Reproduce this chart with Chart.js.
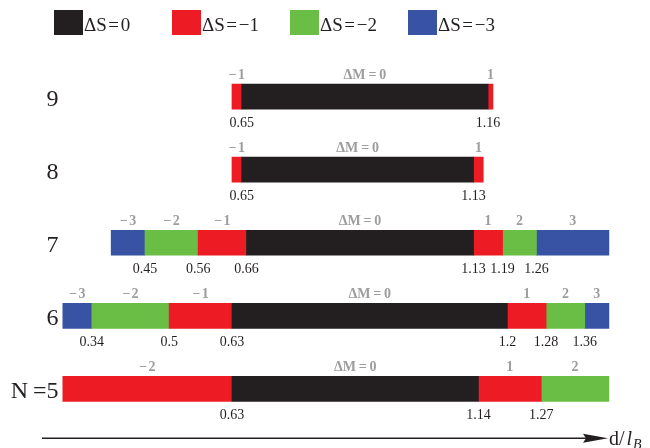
<!DOCTYPE html>
<html>
<head>
<meta charset="utf-8">
<script src="https://cdn.jsdelivr.net/npm/chart.js@4/dist/chart.umd.min.js"></script>
<style>
  html, body { margin: 0; padding: 0; background: #ffffff; }
  #wrap { width: 650px; height: 448px; position: relative; }
</style>
</head>
<body>
<div id="wrap"><canvas id="c"></canvas></div>
<script>
// Rows: particle number N (top to bottom)
const rows = ['9', '8', '7', '6', 'N\u2009=5'];

// Spin-change classes shown in the key
const spinLabels = ['\u0394S\u200A=\u200A0', '\u0394S\u200A=\u200A\u22121', '\u0394S\u200A=\u200A\u22122', '\u0394S\u200A=\u200A\u22123'];
const spinColors = ['#231f20', '#ed1c24', '#6abd45', '#3953a4'];

// Floating segments [from, to] in d/l_B for rows 9, 8, 7, 6, 5
const segS0  = [[0.65, 1.16], [0.65, 1.13], [0.66, 1.13], [0.63, 1.20], [0.63, 1.14]];
const segS1L = [[0.63, 0.65], [0.63, 0.65], [0.56, 0.66], [0.50, 0.63], [0.28, 0.63]];
const segS1R = [[1.16, 1.17], [1.13, 1.15], [1.13, 1.19], [1.20, 1.28], [1.14, 1.27]];
const segS2L = [null, null, [0.45, 0.56], [0.34, 0.50], null];
const segS2R = [null, null, [1.19, 1.26], [1.28, 1.36], [1.27, 1.41]];
const segS3L = [null, null, [0.38, 0.45], [0.28, 0.34], null];
const segS3R = [null, null, [1.26, 1.41], [1.36, 1.41], null];

// Angular-momentum change written above each segment
const dmS0  = ['\u0394M\u2009=\u20090', '\u0394M\u2009=\u20090', '\u0394M\u2009=\u20090', '\u0394M\u2009=\u20090', '\u0394M\u2009=\u20090'];
const dmS1L = ['\u2212\u200A1', '\u2212\u200A1', '\u2212\u200A1', '\u2212\u200A1', '\u2212\u200A2'];
const dmS1R = ['1', '1', '1', '1', '1'];
const dmS2L = [null, null, '\u2212\u200A2', '\u2212\u200A2', null];
const dmS2R = [null, null, '2', '2', '2'];
const dmS3L = [null, null, '\u2212\u200A3', '\u2212\u200A3', null];
const dmS3R = [null, null, '3', '3', null];

// Transition distances printed under each row
const crossings = [
  [0.65, 1.16],
  [0.65, 1.13],
  [0.45, 0.56, 0.66, 1.13, 1.19, 1.26],
  [0.34, 0.5, 0.63, 1.2, 1.28, 1.36],
  [0.63, 1.14, 1.27]
];

const SERIF = '"Liberation Serif", "DejaVu Serif", serif';
const INK = '#231f20';
const GREY = '#9d9d9d';

function seg(data, colorIdx, marks) {
  return {
    data: data,
    backgroundColor: spinColors[colorIdx],
    borderWidth: 0,
    borderSkipped: false,
    barThickness: 25,
    grouped: false,
    marks: marks
  };
}

const datasets = [
  seg(segS0, 0, dmS0),
  seg(segS1L, 1, dmS1L),
  seg(segS1R, 1, dmS1R),
  seg(segS2L, 2, dmS2L),
  seg(segS2R, 2, dmS2R),
  seg(segS3L, 3, dmS3L),
  seg(segS3R, 3, dmS3R)
];

const annotate = {
  id: 'annotate',
  afterDatasetsDraw(chart) {
    const ctx = chart.ctx;
    const xs = chart.scales.x;
    const ys = chart.scales.y;
    ctx.save();

    // key across the top
    ctx.textBaseline = 'alphabetic';
    ctx.textAlign = 'left';
    ctx.font = '19px ' + SERIF;
    spinLabels.forEach((lab, i) => {
      const x0 = 54 + i * 118;
      ctx.fillStyle = spinColors[i];
      ctx.fillRect(x0, 10, 29, 25);
      ctx.fillStyle = INK;
      ctx.fillText(lab, x0 + 30, 31);
    });

    // row names
    ctx.font = '24px ' + SERIF;
    ctx.textAlign = 'right';
    ctx.fillStyle = INK;
    rows.forEach((r, j) => {
      const yc = ys.getPixelForValue(j);
      ctx.fillText(r, 58.5, yc + 9.5);
    });

    // ΔM labels above segments
    ctx.font = 'bold 14px ' + SERIF;
    ctx.textAlign = 'center';
    ctx.fillStyle = GREY;
    chart.data.datasets.forEach((ds) => {
      ds.data.forEach((v, j) => {
        if (!v || !ds.marks[j]) return;
        const xc = (xs.getPixelForValue(v[0]) + xs.getPixelForValue(v[1])) / 2;
        const top = ys.getPixelForValue(j) - 12.5;
        ctx.fillText(ds.marks[j], xc, top - 5.5);
      });
    });

    // transition values below rows
    ctx.font = '14px ' + SERIF;
    ctx.fillStyle = INK;
    crossings.forEach((vals, j) => {
      const bottom = ys.getPixelForValue(j) + 12.5;
      vals.forEach(v => {
        ctx.fillText(String(v), xs.getPixelForValue(v), bottom + 17.5);
      });
    });

    // d/l_B axis arrow
    ctx.strokeStyle = INK;
    ctx.fillStyle = INK;
    ctx.lineWidth = 1.4;
    ctx.beginPath();
    ctx.moveTo(42, 438.3);
    ctx.lineTo(590, 438.3);
    ctx.stroke();
    ctx.beginPath();
    ctx.moveTo(583, 433.8);
    ctx.lineTo(608, 438.3);
    ctx.lineTo(583, 442.8);
    ctx.lineTo(586, 438.3);
    ctx.closePath();
    ctx.fill();
    ctx.textAlign = 'left';
    ctx.font = '20px ' + SERIF;
    ctx.fillText('d/', 609, 445);
    let xp = 609 + ctx.measureText('d/').width + 2;
    ctx.font = 'italic 20px ' + SERIF;
    ctx.fillText('l', xp, 445);
    xp += ctx.measureText('l').width + 1;
    ctx.font = 'italic 14px ' + SERIF;
    ctx.fillText('B', xp, 449);

    ctx.restore();
  }
};

new Chart(document.getElementById('c'), {
  type: 'bar',
  data: { labels: rows, datasets: datasets },
  options: {
    indexAxis: 'y',
    responsive: true,
    maintainAspectRatio: false,
    animation: false,
    layout: { padding: { top: 60, bottom: 22.5, left: 0, right: 0 } },
    scales: {
      x: { type: 'linear', min: 0.15, max: 1.495, display: false },
      y: { type: 'category', display: false, offset: true }
    },
    plugins: {
      legend: { display: false },
      tooltip: { enabled: false }
    }
  },
  plugins: [annotate]
});
</script>
</body>
</html>
